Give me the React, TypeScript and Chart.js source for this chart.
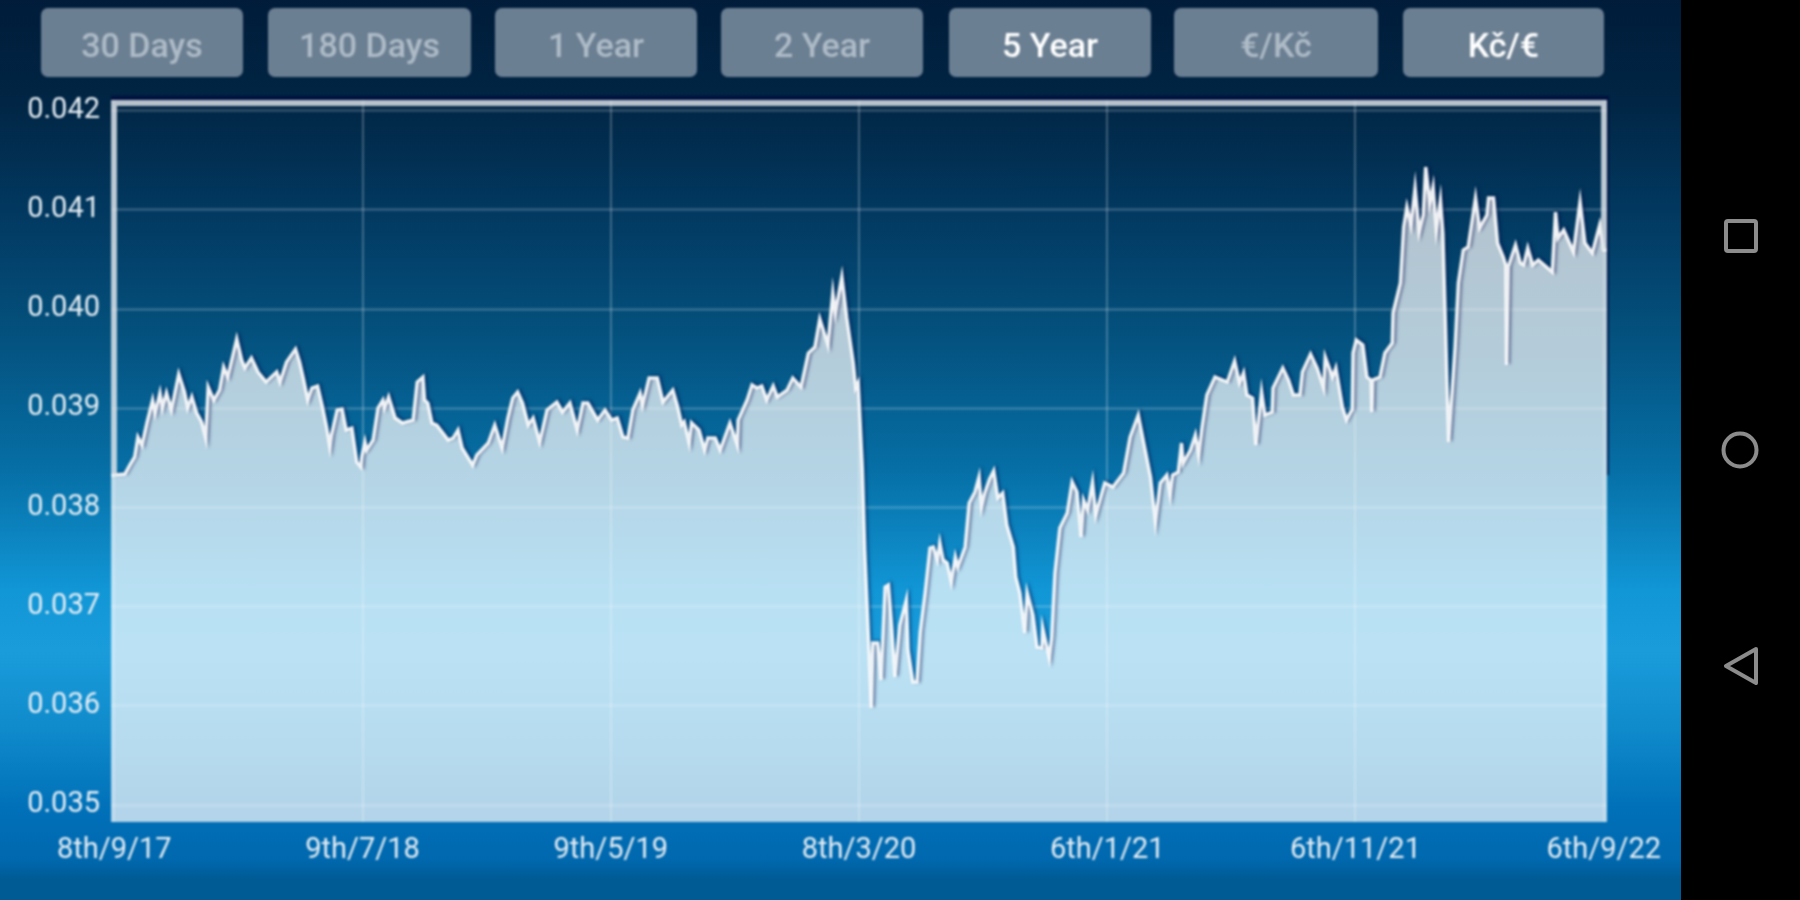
import React, { useEffect, useRef } from "react";
import { Chart, registerables } from "chart.js";

Chart.register(...registerables);

const rangeButtons = ["30 Days", "180 Days", "1 Year", "2 Year", "5 Year", "€/Kč", "Kč/€"];
const activeButtons = ["5 Year", "Kč/€"];
const tickDays = [0, 304, 608, 912, 1216, 1520, 1824];
const tickDates = ["8th/9/17", "9th/7/18", "9th/5/19", "8th/3/20", "6th/1/21", "6th/11/21", "6th/9/22"];
const rateTicks = [0.035, 0.036, 0.037, 0.038, 0.039, 0.04, 0.041, 0.042];

const days2017 = [-4, 0, 13, 19, 25, 29, 34, 40, 47, 50, 56, 59, 64, 70, 79, 86, 90, 95, 101, 107, 112, 115, 122, 129, 134, 139, 150, 156, 160, 168, 176, 186, 199, 203, 211, 222, 227, 232, 237, 242, 249, 255, 260, 264, 266, 273, 279, 284, 291, 297, 302];
const rates2017 = [0.038326, 0.038326, 0.038336, 0.038427, 0.038508, 0.038709, 0.038629, 0.038851, 0.039082, 0.038951, 0.039153, 0.039002, 0.039153, 0.038982, 0.039344, 0.039163, 0.039002, 0.039113, 0.038951, 0.038861, 0.038699, 0.039213, 0.039082, 0.039183, 0.039415, 0.039314, 0.039697, 0.039486, 0.039405, 0.039506, 0.039365, 0.039264, 0.039365, 0.039264, 0.039465, 0.039596, 0.039465, 0.039284, 0.039082, 0.039203, 0.039224, 0.039012, 0.03881, 0.038609, 0.03873, 0.038982, 0.038992, 0.03878, 0.0388, 0.038457, 0.038407];

const days2018 = [303, 307, 309, 317, 323, 329, 331, 336, 344, 353, 366, 371, 378, 380, 384, 389, 395, 409, 415, 421, 426, 439, 444, 458, 466, 475, 482, 488, 494, 500, 507, 513, 521, 530, 542, 549, 558, 567, 574, 580, 592, 601, 609];
const rates2018 = [0.038508, 0.038659, 0.038578, 0.038679, 0.039002, 0.039082, 0.039002, 0.039113, 0.038901, 0.038851, 0.038881, 0.039264, 0.039314, 0.039082, 0.039052, 0.038851, 0.03883, 0.038679, 0.038699, 0.03878, 0.038599, 0.038427, 0.038528, 0.038649, 0.03883, 0.038599, 0.038901, 0.039103, 0.039163, 0.039052, 0.03883, 0.038901, 0.038659, 0.038982, 0.039062, 0.038961, 0.039052, 0.03878, 0.039052, 0.039052, 0.038881, 0.038982, 0.038881];

const days2019 = [616, 623, 629, 635, 644, 647, 655, 665, 672, 684, 690, 695, 698, 704, 707, 716, 723, 727, 736, 742, 754, 763, 764, 775, 781, 787, 793, 799, 807, 812, 824, 831, 841, 850, 858, 864, 874, 880, 883, 891, 897, 905, 908, 911, 916];
const rates2019 = [0.038901, 0.038709, 0.038699, 0.038982, 0.039153, 0.039032, 0.039304, 0.039304, 0.039062, 0.039183, 0.039012, 0.03883, 0.038861, 0.038649, 0.038851, 0.03878, 0.038578, 0.038699, 0.038699, 0.038578, 0.038851, 0.038629, 0.038881, 0.039082, 0.039234, 0.039203, 0.039224, 0.039082, 0.039224, 0.039113, 0.039183, 0.039304, 0.039213, 0.039556, 0.039617, 0.039899, 0.039637, 0.040161, 0.039959, 0.040322, 0.039909, 0.039455, 0.039203, 0.039254, 0.038407];

const days2020 = [919, 923, 927, 929, 935, 939, 944, 948, 952, 956, 962, 970, 972, 978, 983, 987, 993, 999, 1003, 1008, 1011, 1015, 1020, 1025, 1030, 1033, 1042, 1047, 1054, 1059, 1062, 1066, 1072, 1077, 1082, 1088, 1093, 1101, 1104, 1109, 1115, 1118, 1125, 1130, 1136, 1137, 1145, 1148, 1152, 1158, 1167, 1173, 1179, 1184, 1187, 1192, 1198, 1202, 1207, 1213];
const rates2020 = [0.03757, 0.036794, 0.035978, 0.036633, 0.036633, 0.03626, 0.037197, 0.037218, 0.036794, 0.03629, 0.036814, 0.037066, 0.036562, 0.03624, 0.03624, 0.036744, 0.037137, 0.037591, 0.037601, 0.03747, 0.037641, 0.03747, 0.037439, 0.037248, 0.0375, 0.037399, 0.037601, 0.038044, 0.038155, 0.038306, 0.038004, 0.038145, 0.038286, 0.038367, 0.038095, 0.038145, 0.037822, 0.037601, 0.037298, 0.037137, 0.036734, 0.037137, 0.036915, 0.036593, 0.036583, 0.036784, 0.036482, 0.036693, 0.037339, 0.037792, 0.037943, 0.038256, 0.038155, 0.037701, 0.038074, 0.037974, 0.038256, 0.037923, 0.038074, 0.038246];

const days2021 = [1223, 1236, 1244, 1254, 1260, 1269, 1275, 1281, 1289, 1293, 1296, 1303, 1307, 1309, 1318, 1324, 1328, 1332, 1338, 1348, 1363, 1372, 1378, 1383, 1387, 1394, 1398, 1405, 1409, 1418, 1419, 1431, 1438, 1444, 1452, 1455, 1465, 1473, 1481, 1483, 1492, 1496, 1504, 1509, 1514];
const rates2021 = [0.038205, 0.038347, 0.038709, 0.038931, 0.038679, 0.038306, 0.037853, 0.038246, 0.038326, 0.038125, 0.038326, 0.038357, 0.038649, 0.038447, 0.038578, 0.03873, 0.038528, 0.0388, 0.039133, 0.039314, 0.039264, 0.039476, 0.039254, 0.039355, 0.039133, 0.039103, 0.038629, 0.039163, 0.038931, 0.038961, 0.039203, 0.039405, 0.039284, 0.039133, 0.039133, 0.039365, 0.039546, 0.039405, 0.039203, 0.039516, 0.039314, 0.039405, 0.039012, 0.038881, 0.038961];

const days2022 = [1516, 1517, 1521, 1529, 1534, 1539, 1540, 1541, 1550, 1556, 1565, 1566, 1575, 1579, 1583, 1588, 1593, 1598, 1603, 1606, 1611, 1615, 1619, 1624, 1627, 1630, 1634, 1637, 1642, 1646, 1652, 1658, 1667, 1672, 1681, 1683, 1689, 1694, 1701, 1704, 1705, 1707, 1716, 1722, 1726, 1731, 1737, 1744, 1761, 1765, 1768, 1775, 1787, 1795, 1801, 1810, 1819, 1824, 1828];
const rates2022 = [0.038982, 0.039556, 0.039687, 0.039637, 0.039314, 0.039284, 0.038961, 0.039284, 0.039314, 0.039556, 0.039657, 0.039959, 0.040262, 0.040826, 0.041028, 0.040846, 0.04122, 0.040776, 0.040947, 0.041431, 0.041068, 0.041229, 0.040796, 0.041098, 0.040766, 0.039889, 0.038659, 0.039012, 0.039617, 0.040262, 0.040595, 0.040625, 0.041119, 0.040816, 0.040947, 0.041119, 0.041119, 0.040665, 0.040524, 0.040443, 0.039435, 0.040423, 0.040645, 0.040463, 0.040443, 0.040615, 0.040443, 0.040494, 0.040373, 0.040977, 0.040715, 0.040796, 0.040574, 0.041078, 0.040665, 0.040564, 0.040846, 0.040595, 0.040595];

const allDays = [...days2017, ...days2018, ...days2019, ...days2020, ...days2021, ...days2022];
const allRates = [...rates2017, ...rates2018, ...rates2019, ...rates2020, ...rates2021, ...rates2022];

const buttonBoxes = [
  [41, 202],
  [268, 203],
  [495, 202],
  [721, 202],
  [949, 202],
  [1174, 204],
  [1403, 201],
];

const framePlugin = {
  id: "frame",
  beforeDatasetDraw(chart: any) {
    const ctx = chart.ctx;
    ctx.save();
    ctx.shadowColor = "rgba(0,8,70,0.55)";
    ctx.shadowBlur = 3;
    ctx.shadowOffsetX = 2;
    ctx.shadowOffsetY = -1;
  },
  afterDatasetDraw(chart: any) {
    chart.ctx.restore();
  },
  afterDatasetsDraw(chart: any) {
    const { ctx, chartArea: a, scales } = chart;
    const firstY = scales.y.getPixelForValue(allRates[0]);
    const lastY = scales.y.getPixelForValue(allRates[allRates.length - 1]);
    ctx.save();
    ctx.fillStyle = "rgba(0,8,60,0.7)";
    ctx.fillRect(a.left, a.top - 4, a.width + 2, 4);
    ctx.fillRect(a.right, a.top, 2, firstY - a.top);
    ctx.fillStyle = "rgba(222,228,234,0.82)";
    ctx.fillRect(a.left, a.top, a.width, 6);
    ctx.fillRect(a.left, a.top + 6, 6, firstY - a.top - 6);
    ctx.fillRect(a.right - 6, a.top + 6, 6, lastY - a.top - 6);
    ctx.restore();
  },
};

export default function App() {
  const canvasRef = useRef<HTMLCanvasElement | null>(null);

  useEffect(() => {
    const chart = new Chart(canvasRef.current as HTMLCanvasElement, {
      type: "line",
      data: {
        datasets: [
          {
            data: allDays.map((d, i) => ({ x: d, y: allRates[i] })),
            borderColor: "rgba(255,255,255,0.92)",
            borderWidth: 3.5,
            backgroundColor: "rgba(255,255,255,0.7)",
            fill: "start",
            pointRadius: 0,
            tension: 0,
          },
        ],
      },
      options: {
        animation: false,
        responsive: false,
        layout: { padding: { top: 100, right: 193, left: 0, bottom: 0 } },
        plugins: { legend: { display: false }, tooltip: { enabled: false } },
        scales: {
          x: {
            type: "linear",
            min: -4,
            max: 1828,
            afterBuildTicks(scale: any) {
              scale.ticks = tickDays.map((value) => ({ value }));
            },
            afterFit(scale: any) {
              scale.height = 78;
            },
            grid: { color: "rgba(255,255,255,0.24)", lineWidth: 2, drawTicks: false },
            border: { display: false },
            ticks: {
              autoSkip: false,
              maxRotation: 0,
              padding: 11,
              color: "#e6eef4",
              font: { family: "Roboto", size: 29 },
              callback: (value: any) => tickDates[tickDays.indexOf(value)] ?? "",
            },
          },
          y: {
            type: "linear",
            min: 0.034829,
            max: 0.042107,
            afterBuildTicks(scale: any) {
              scale.ticks = rateTicks.map((value) => ({ value }));
            },
            afterFit(scale: any) {
              scale.width = 111;
            },
            grid: { color: "rgba(255,255,255,0.17)", lineWidth: 3, drawTicks: false },
            border: { display: false },
            ticks: {
              padding: 11,
              color: "#e6eef4",
              font: { family: "Roboto", size: 29 },
              callback: (value: any) => Number(value).toFixed(3),
            },
          },
        },
      },
      plugins: [framePlugin],
    } as any);
    return () => chart.destroy();
  }, []);

  return (
    <div
      style={{
        position: "absolute",
        left: 0,
        top: 0,
        width: 1800,
        height: 900,
        overflow: "hidden",
        background: "#000",
        fontFamily: "Roboto",
      }}
    >
      <div
        style={{
          position: "absolute",
          left: 0,
          top: 0,
          width: 1681,
          height: 900,
          overflow: "hidden",
          background:
            "linear-gradient(180deg, #001c3a 0px, #012544 100px, #023a62 220px, #04527f 340px, #066fa6 470px, #1196d6 590px, #1a9cdb 650px, #0f8acb 730px, #0070b8 810px, #0068ae 860px, #005a94 880px, #005a94 900px)",
        }}
      >
        <div style={{ position: "absolute", left: 0, top: 0, width: 1681, height: 900, filter: "blur(1.1px)" }}>
          {rangeButtons.map((label, i) => (
            <div
              key={label}
              style={{
                position: "absolute",
                left: buttonBoxes[i][0],
                top: 8,
                width: buttonBoxes[i][1],
                height: 69,
                lineHeight: "74px",
                borderRadius: 7,
                background: "#6b7f92",
                textAlign: "center",
                fontSize: 34,
                fontWeight: 500,
                color: activeButtons.includes(label) ? "#ffffff" : "#aebbc7",
              }}
            >
              {label}
            </div>
          ))}
          <canvas
            ref={canvasRef}
            width={1800}
            height={900}
            style={{ position: "absolute", left: 0, top: 0, width: 1800, height: 900 }}
          />
        </div>
      </div>
      <svg
        width={119}
        height={900}
        style={{ position: "absolute", left: 1681, top: 0, filter: "blur(0.6px)" }}
        fill="none"
        stroke="#8c8c8c"
        strokeWidth={4}
      >
        <rect x={45} y={221} width={30} height={30} rx={2} />
        <circle cx={59} cy={450} r={16.5} />
        <path d="M75 649 L45 666 L75 683 Z" strokeLinejoin="round" />
      </svg>
    </div>
  );
}
